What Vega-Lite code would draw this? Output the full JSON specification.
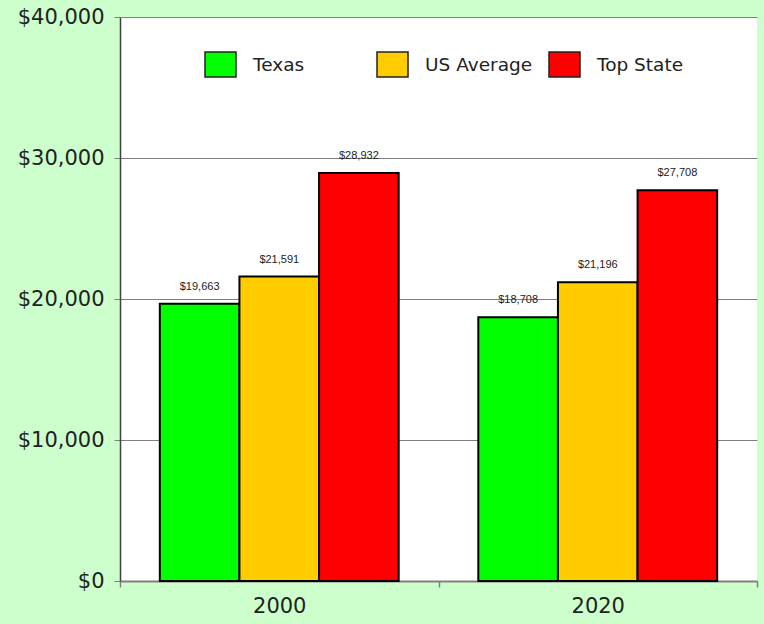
{
  "$schema": "https://vega.github.io/schema/vega-lite/v6.json",
  "autosize": {"type": "none"},
  "padding": {"left": 120, "top": 17, "right": 7, "bottom": 43},
  "width": 637,
  "height": 564,
  "background": "#ccffcc",
  "config": {
    "view": {"fill": "white", "stroke": null},
    "font": "DejaVu Sans"
  },
  "data": {
    "values": [
      {"year": "2000", "series": "Texas", "value": 19663},
      {"year": "2000", "series": "US Average", "value": 21591},
      {"year": "2000", "series": "Top State", "value": 28932},
      {"year": "2020", "series": "Texas", "value": 18708},
      {"year": "2020", "series": "US Average", "value": 21196},
      {"year": "2020", "series": "Top State", "value": 27708}
    ]
  },
  "encoding": {
    "x": {
      "field": "year", "type": "nominal", "title": null,
      "scale": {"paddingInner": 0, "paddingOuter": 0},
      "axis": {
        "labelAngle": 0, "labelFontSize": 21, "labelColor": "#222222",
        "labelPadding": 8, "tickBand": "extent", "tickSize": 6,
        "tickColor": "#808080", "domainColor": "#808080", "domainWidth": 2, "tickWidth": 1.5
      }
    },
    "xOffset": {
      "field": "series", "type": "nominal",
      "sort": ["Texas", "US Average", "Top State"],
      "scale": {"paddingInner": 0, "paddingOuter": 0.5}
    },
    "y": {
      "field": "value", "type": "quantitative", "title": null,
      "scale": {"domain": [0, 40000]},
      "axis": {
        "values": [0, 10000, 20000, 30000, 40000],
        "format": "$,.0f", "labelFontSize": 21, "labelColor": "#222222",
        "labelPadding": 10, "tickSize": 6, "tickColor": "#808080",
        "domainColor": "#404040", "domainWidth": 1.5,
        "gridColor": "#808080", "gridWidth": 1.2, "gridOpacity": 1
      }
    }
  },
  "layer": [
    {
      "mark": {"type": "bar", "stroke": "black", "strokeWidth": 2},
      "encoding": {
        "color": {
          "field": "series", "type": "nominal",
          "sort": ["Texas", "US Average", "Top State"],
          "scale": {"domain": ["Texas", "US Average", "Top State"], "range": ["#00ff00", "#ffcc00", "#ff0000"]},
          "legend": {
            "title": null, "orient": "none", "direction": "horizontal",
            "columns": 3, "gridAlign": "all",
            "legendX": 87, "legendY": 34,
            "symbolType": "M-1.24,-1L1.24,-1L1.24,1L-1.24,1Z",
            "symbolSize": 625, "symbolStrokeColor": "#222222", "symbolStrokeWidth": 1.5,
            "symbolOpacity": 1, "symbolFillOpacity": 1,
            "labelFontSize": 18.5, "labelColor": "#222222", "labelOffset": 19,
            "columnPadding": 13
          }
        }
      }
    },
    {
      "mark": {"type": "text", "font": "Liberation Sans", "fontSize": 11, "color": "#222222", "baseline": "middle", "dy": -17},
      "encoding": {
        "text": {"field": "value", "type": "quantitative", "format": "$,.0f"}
      }
    }
  ]
}
